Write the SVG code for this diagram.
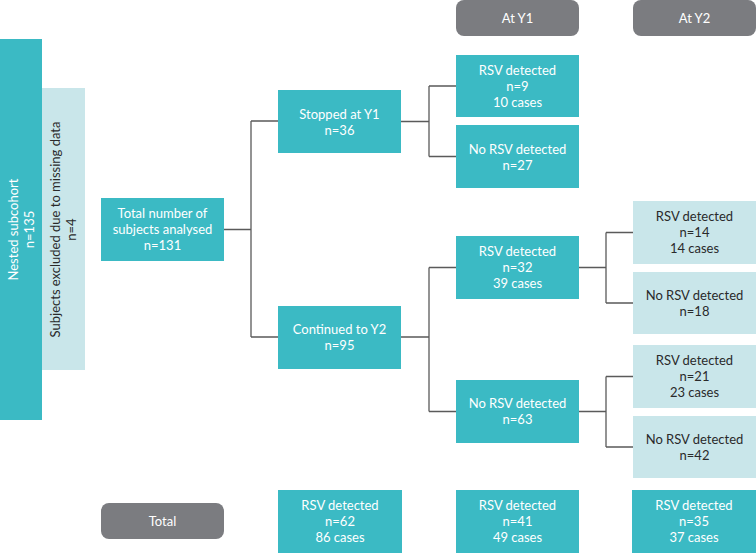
<svg xmlns="http://www.w3.org/2000/svg" width="756" height="553" viewBox="0 0 756 553">
<style>
.dark{fill:#3bbac4}
.light{fill:#c9e6ea}
.hdr{fill:#7b7c80}
text{font-family:"Lato","Liberation Sans",sans-serif;font-size:13px;text-anchor:middle}
.w{fill:#ffffff}
.k{fill:#2a2a2a}
.conn{fill:none;stroke:#5a5a5a;stroke-width:1.3}
</style>
<rect width="756" height="553" fill="#ffffff"/>
<g id="connectors">
<path class="conn" d="M224 229.5H251M251 121V337M251 121H278M251 337H278"/>
<path class="conn" d="M401 121.5H429M429 86V156.5M429 86H456M429 156.5H456"/>
<path class="conn" d="M401 337H429M429 267.5V411.5M429 267.5H456M429 411.5H456"/>
<path class="conn" d="M579 267.5H606M606 232.5V303M606 232.5H633M606 303H633"/>
<path class="conn" d="M579 411.5H606M606 376.5V447M606 376.5H633M606 447H633"/>
</g>
<g id="hdr-y1"><rect class="hdr" x="456" y="0" width="123" height="36" rx="8"/><text class="w" x="517.5" y="22.5">At Y1</text></g>
<g id="hdr-y2"><rect class="hdr" x="633" y="0" width="123" height="36" rx="8"/><text class="w" x="694.5" y="22.5">At Y2</text></g>
<g id="nested"><rect class="dark" x="0" y="39" width="42" height="381"/>
<text class="w" transform="translate(21 229.5) rotate(-90)"><tspan x="0" y="-3.5">Nested subcohort</tspan><tspan x="0" y="12.5">n=135</tspan></text></g>
<g id="excluded"><rect class="light" x="42" y="88" width="43" height="282"/>
<text class="k" transform="translate(63.5 229.5) rotate(-90)"><tspan x="0" y="-3.5">Subjects excluded due to missing data</tspan><tspan x="0" y="12.5">n=4</tspan></text></g>
<g id="total-analysed"><rect class="dark" x="101" y="198" width="123" height="63"/>
<text class="w"><tspan x="162.5" y="218">Total number of</tspan><tspan x="162.5" y="234">subjects analysed</tspan><tspan x="162.5" y="250">n=131</tspan></text></g>
<g id="stopped"><rect class="dark" x="278" y="90" width="123" height="63"/>
<text class="w"><tspan x="339.5" y="118.5">Stopped at Y1</tspan><tspan x="339.5" y="134.5">n=36</tspan></text></g>
<g id="continued"><rect class="dark" x="278" y="306" width="123" height="63"/>
<text class="w"><tspan x="339.5" y="334">Continued to Y2</tspan><tspan x="339.5" y="350">n=95</tspan></text></g>
<g id="y1-rsv-9"><rect class="dark" x="456" y="55" width="123" height="62"/>
<text class="w"><tspan x="517.5" y="74.5">RSV detected</tspan><tspan x="517.5" y="90.5">n=9</tspan><tspan x="517.5" y="106.5">10 cases</tspan></text></g>
<g id="y1-no-27"><rect class="dark" x="456" y="125" width="123" height="63"/>
<text class="w"><tspan x="517.5" y="153.5">No RSV detected</tspan><tspan x="517.5" y="169.5">n=27</tspan></text></g>
<g id="y1-rsv-32"><rect class="dark" x="456" y="236" width="123" height="63"/>
<text class="w"><tspan x="517.5" y="256">RSV detected</tspan><tspan x="517.5" y="272">n=32</tspan><tspan x="517.5" y="288">39 cases</tspan></text></g>
<g id="y1-no-63"><rect class="dark" x="456" y="380" width="123" height="63"/>
<text class="w"><tspan x="517.5" y="408">No RSV detected</tspan><tspan x="517.5" y="424">n=63</tspan></text></g>
<g id="y2-rsv-14"><rect class="light" x="633" y="201" width="123" height="63"/>
<text class="k"><tspan x="694.5" y="221">RSV detected</tspan><tspan x="694.5" y="237">n=14</tspan><tspan x="694.5" y="253">14 cases</tspan></text></g>
<g id="y2-no-18"><rect class="light" x="633" y="272" width="123" height="62"/>
<text class="k"><tspan x="694.5" y="300">No RSV detected</tspan><tspan x="694.5" y="316">n=18</tspan></text></g>
<g id="y2-rsv-21"><rect class="light" x="633" y="345" width="123" height="63"/>
<text class="k"><tspan x="694.5" y="365">RSV detected</tspan><tspan x="694.5" y="381">n=21</tspan><tspan x="694.5" y="397">23 cases</tspan></text></g>
<g id="y2-no-42"><rect class="light" x="633" y="416" width="123" height="62"/>
<text class="k"><tspan x="694.5" y="443.5">No RSV detected</tspan><tspan x="694.5" y="459.5">n=42</tspan></text></g>
<g id="total-label"><rect class="hdr" x="101" y="503" width="123" height="36" rx="8"/><text class="w" x="162.5" y="525.5">Total</text></g>
<g id="total-all"><rect class="dark" x="278" y="490" width="124" height="70"/>
<text class="w"><tspan x="340" y="510">RSV detected</tspan><tspan x="340" y="526">n=62</tspan><tspan x="340" y="542">86 cases</tspan></text></g>
<g id="total-y1"><rect class="dark" x="456" y="490" width="123" height="70"/>
<text class="w"><tspan x="517.5" y="510">RSV detected</tspan><tspan x="517.5" y="526">n=41</tspan><tspan x="517.5" y="542">49 cases</tspan></text></g>
<g id="total-y2"><rect class="dark" x="632" y="490" width="124" height="70"/>
<text class="w"><tspan x="694" y="510">RSV detected</tspan><tspan x="694" y="526">n=35</tspan><tspan x="694" y="542">37 cases</tspan></text></g>
</svg>
